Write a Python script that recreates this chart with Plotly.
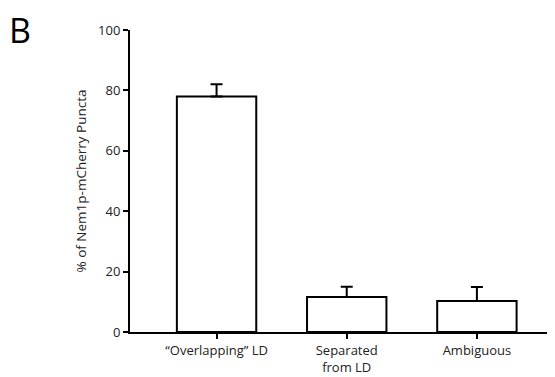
import plotly.graph_objects as go

categories = ["\u201cOverlapping\u201d LD", "Separated<br>from LD", "Ambiguous"]
values = [78, 11.6, 10.3]
errors_up = [4.0, 3.4, 4.6]

fig = go.Figure()
fig.add_trace(go.Bar(
    x=[0, 1, 2], y=values,
    width=0.61,
    marker=dict(color="white", line=dict(color="black", width=2)),
    error_y=dict(type="data", array=errors_up, arrayminus=[0, 0, 0], symmetric=False,
                 color="black", thickness=2, width=6),
))
fig.update_layout(
    width=547, height=369,
    margin=dict(l=122, r=0, t=22, b=45),
    paper_bgcolor="white", plot_bgcolor="white",
    font=dict(family="Open Sans", size=13, color="#222"),
    showlegend=False,
)
fig.add_annotation(text="B", xref="paper", yref="paper", x=-0.29, y=1.0,
                   xanchor="left", yanchor="middle", showarrow=False,
                   font=dict(size=34, color="black", family="Open Sans"))
fig.update_xaxes(
    range=[-0.665, 2.6], tickmode="array", tickvals=[0, 1, 2], ticktext=categories,
    showline=True, linecolor="black", linewidth=2, ticks="outside", ticklen=5,
    tickwidth=2, tickcolor="black", showgrid=False, zeroline=False, automargin=False,
    tickfont=dict(size=13, color="#222"),
)
fig.update_yaxes(
    range=[0, 100], tickvals=[0, 20, 40, 60, 80, 100],
    showline=True, linecolor="black", linewidth=2, ticks="outside", ticklen=5,
    tickwidth=2, tickcolor="black", showgrid=False, zeroline=False, automargin=False,
    tickfont=dict(size=13, color="#222"),
    title=dict(text="% of Nem1p-mCherry Puncta", font=dict(size=13.5, color="#222"), standoff=8),
)
fig.write_html("out.html")
